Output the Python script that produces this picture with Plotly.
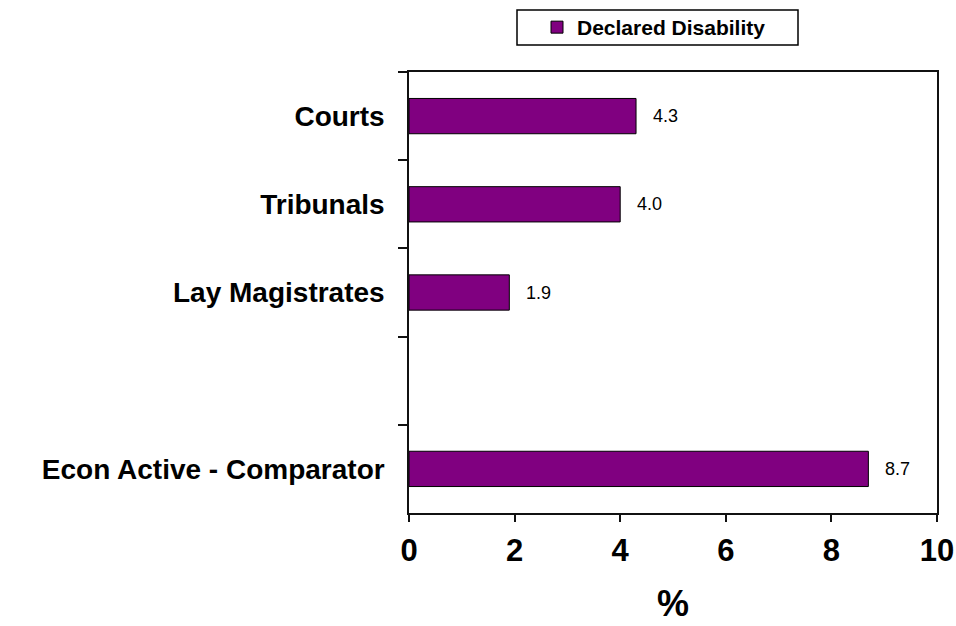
import plotly.graph_objects as go

# Share of members declaring a disability, by group (%)
categories = ["Courts", "Tribunals", "Lay Magistrates", " ", "Econ Active - Comparator"]
declared_disability = [4.3, 4.0, 1.9, None, 8.7]
series_name = "Declared Disability"
x_ticks = [0, 2, 4, 6, 8, 10]

FONT = "Liberation Sans, Arial, sans-serif"
PURPLE = "#800080"

fig = go.Figure()
fig.add_trace(go.Bar(
    x=declared_disability,
    y=categories,
    orientation="h",
    name=series_name,
    width=0.4,
    marker=dict(color=PURPLE, line=dict(color="#000000", width=1)),
    showlegend=True,
))

# value labels beside each bar
for cat, val in zip(categories, declared_disability):
    if val is None:
        continue
    fig.add_annotation(
        x=val, y=cat, text=f"{val:.1f}", showarrow=False,
        xanchor="left", yanchor="middle", xshift=15,
        font=dict(family=FONT, size=18, color="#000000"),
    )

# frame around the legend
fig.add_shape(
    type="rect", xref="paper", yref="paper",
    x0=(517 - 409) / 528, x1=(798 - 409) / 528,
    y0=(513 - 45) / 441, y1=(513 - 10) / 441,
    line=dict(color="#000000", width=1.5), fillcolor="rgba(0,0,0,0)",
)

fig.update_layout(
    width=956, height=626,
    margin=dict(l=409, r=19, t=72, b=113, autoexpand=False),
    paper_bgcolor="#ffffff", plot_bgcolor="#ffffff",
    font=dict(family=FONT, color="#000000"),
    bargap=0.6,
    legend=dict(
        orientation="h",
        x=(537 - 409) / 528, xanchor="left",
        y=(513 - 27.5) / 441, yanchor="middle",
        font=dict(family=FONT, size=21, weight="bold", color="#000000"),
        bgcolor="rgba(0,0,0,0)", borderwidth=0,
    ),
    xaxis=dict(
        range=[0, 10], tickvals=x_ticks, ticktext=[str(t) for t in x_ticks],
        automargin=False,
        showgrid=False, zeroline=False,
        showline=True, linecolor="#111111", linewidth=1.5, mirror=True,
        ticks="outside", ticklen=7, tickwidth=1.5, tickcolor="#111111",
        tickfont=dict(family=FONT, size=31, weight="bold", color="#000000"),
        ticklabelstandoff=2,
        title=dict(text="%", font=dict(family=FONT, size=36, weight="bold", color="#000000"),
                   standoff=24),
    ),
    yaxis=dict(
        type="category", categoryorder="array", categoryarray=categories,
        autorange="reversed", automargin=False,
        showgrid=False, zeroline=False,
        showline=True, linecolor="#111111", linewidth=1.5, mirror=True,
        ticks="outside", ticklen=9, tickwidth=1.5, tickcolor="#111111",
        tickson="boundaries",
        tickfont=dict(family=FONT, size=28, weight="bold", color="#000000"),
        ticklabelstandoff=17,
    ),
)

fig.write_html("out.html")
